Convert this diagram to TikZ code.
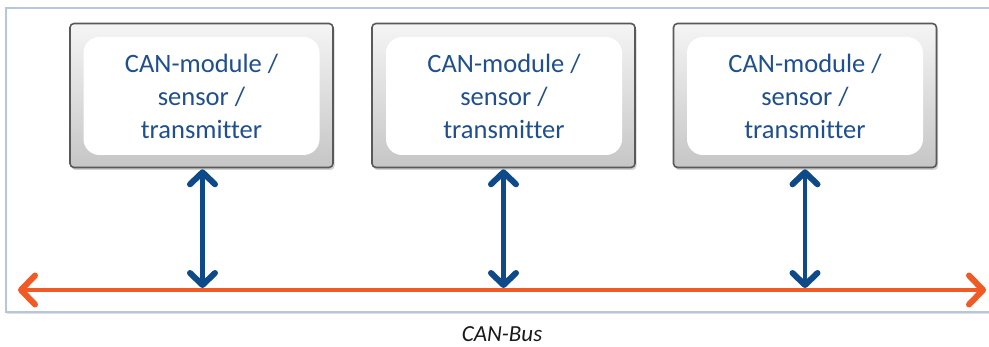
\documentclass[tikz,border=0pt]{standalone}
\usepackage{fontspec}
\setmainfont{Carlito}[Ligatures=NoCommon]
\usetikzlibrary{arrows.meta,shadows,positioning}
\definecolor{frameblue}{HTML}{B7C6DF}
\definecolor{txtblue}{HTML}{1F4F8F}
\definecolor{arrblue}{HTML}{0E4A8A}
\definecolor{busorange}{HTML}{F15A24}
\definecolor{boxedge}{HTML}{595959}
\tikzset{
  modbox/.style={draw=boxedge, line width=1.6pt, rounded corners=4pt,
    top color=gray!8, bottom color=gray!45, minimum width=263pt, minimum height=144pt,
    drop shadow={opacity=0.35, shadow xshift=1.5pt, shadow yshift=-2.5pt}},
  innerbox/.style={fill=white, rounded corners=16pt, minimum width=236pt, minimum height=118pt,
    text=txtblue, align=center, font=\fontsize{26.5}{33}\selectfont, inner sep=0pt},
  linkarrow/.style={draw=arrblue, line width=4.8pt,
    {Straight Barb[length=12pt,width=25pt,round,line width=6pt]}-{Straight Barb[length=12pt,width=25pt,round,line width=6pt]}},
  busarrow/.style={draw=busorange, line width=4.8pt,
    {Straight Barb[length=14pt,width=29pt,round,line width=6pt]}-{Straight Barb[length=14pt,width=29pt,round,line width=6pt]}},
}
\begin{document}
\begin{tikzpicture}[x=1pt,y=-1pt]
\useasboundingbox (0,0) rectangle (989,347);
% outer frame
\path[draw=frameblue, line width=1.8pt, fill=white,
  drop shadow={opacity=0.25, shadow xshift=1pt, shadow yshift=-2pt}]
  (6,8) rectangle (1000,312);
% modules
\node[modbox] (m1) at (201.5,95.5) {};
\node[modbox] (m2) at (503.5,95.5) {};
\node[modbox] (m3) at (805,95.5) {};
\node[innerbox] (t1) at (201.5,96) {CAN-module /\\sensor /\\transmitter};
\node[innerbox] (t2) at (504,96) {CAN-module /\\sensor /\\transmitter};
\node[innerbox] (t3) at (805,96) {CAN-module /\\sensor /\\transmitter};
% bus
\coordinate (busL) at (18,290);
\coordinate (busR) at (986,290);
\draw[busarrow] (busL) -- (busR);
\coordinate (b1) at (202.5,288);
\coordinate (b2) at (503.5,288);
\coordinate (b3) at (805,288);
\draw[linkarrow] ([yshift=-1pt]m1.south -| b1) -- (b1);
\draw[linkarrow] ([yshift=-1pt]m2.south -| b2) -- (b2);
\draw[linkarrow] ([yshift=-1pt]m3.south -| b3) -- (b3);
\node[font=\itshape\fontsize{23}{28}\selectfont, text=black!90] (bus) at (502,334) {CAN-Bus};
\end{tikzpicture}
\end{document}
